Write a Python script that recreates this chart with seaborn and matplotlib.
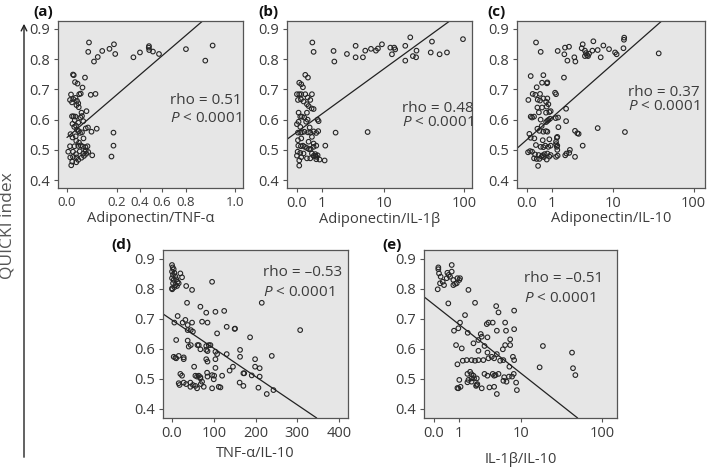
import numpy as np
import matplotlib
matplotlib.use("Agg")
import matplotlib.pyplot as plt
import seaborn as sns

# ---- data ---------------------------------------------------------------
a_x = [0.088, 0.085, 0.108, 0.123, 0.141, 0.170, 0.188, 0.193, 0.343, 0.400, 0.482, 0.480, 0.484, 0.518, 0.573, 0.800, 0.879, 0.909,
       0.024, 0.027, 0.072, 0.032, 0.042, 0.062, 0.055, 0.049, 0.095, 0.114, 0.016, 0.012, 0.025, 0.034, 0.040, 0.020, 0.045,
       0.038, 0.047, 0.078, 0.058, 0.020, 0.026, 0.034, 0.054, 0.060, 0.065, 0.031, 0.045, 0.036, 0.029, 0.022, 0.040, 0.047,
       0.075, 0.084, 0.119, 0.098, 0.060, 0.186, 0.014, 0.022, 0.037, 0.048, 0.066, 0.012, 0.030, 0.045, 0.055, 0.063, 0.074,
       0.082, 0.186, 0.005, 0.024, 0.051, 0.036, 0.065, 0.077, 0.085, 0.101, 0.178, 0.013, 0.024, 0.038, 0.045, 0.058, 0.068,
       0.017, 0.021, 0.037, 0.075, 0.035, 0.052]
a_y = [0.855, 0.824, 0.792, 0.807, 0.827, 0.834, 0.849, 0.817, 0.806, 0.822, 0.843, 0.838, 0.830, 0.825, 0.817, 0.833, 0.795, 0.845,
       0.749, 0.747, 0.739, 0.724, 0.719, 0.706, 0.686, 0.684, 0.682, 0.685, 0.683, 0.665, 0.668, 0.672, 0.662, 0.657, 0.654,
       0.648, 0.641, 0.628, 0.623, 0.611, 0.611, 0.610, 0.607, 0.612, 0.595, 0.598, 0.590, 0.580, 0.576, 0.586, 0.566, 0.562,
       0.571, 0.574, 0.570, 0.560, 0.558, 0.557, 0.552, 0.541, 0.530, 0.524, 0.538, 0.512, 0.512, 0.513, 0.515, 0.511, 0.509,
       0.512, 0.514, 0.494, 0.494, 0.495, 0.486, 0.488, 0.487, 0.493, 0.482, 0.478, 0.475, 0.477, 0.475, 0.467, 0.474, 0.480,
       0.449, 0.461, 0.459, 0.497, 0.545, 0.556]

b_x = [0.53, 0.585, 1.75, 1.81, 2.98, 4.06, 4.06, 5.19, 5.6, 6.73, 7.87, 8.37, 9.47, 12.2, 12.8, 14.1, 13.7, 18.95, 18.95, 21.9,
       23.6, 25.9, 26.2, 40.7, 39.3, 50.5, 62.1, 97.2,
       1.91, 6.05, 1.19, 1.15, 0.87,
       0.259, 0.355, 0.066, 0.127, 0.18, 0.0, 0.066, 0.127, 0.259, 0.344, 0.513, 0.028, 0.117, 0.2, 0.318, 0.38, 0.446, 0.5,
       0.585, 0.047, 0.097, 0.148, 0.225, 0.318, 0.29, 0.344, 0.77, 0.82, 0.0, 0.047, 0.097, 0.028, 0.097, 0.148, 0.225, 0.355,
       0.446, 0.585, 0.706, 0.80, 0.42, 0.513, 0.585, 0.38, 0.028, 0.127, 0.038, 0.117, 0.18, 0.245, 0.318, 0.40, 0.46, 0.585,
       0.706, 0.019, 0.097, 0.2, 0.513, 0.66, 0.77, 0.706, 0.585, 0.066, 0.127, 0.318, 0.446, 0.706, 0.66, 0.066, 0.0]
b_y = [0.855, 0.824, 0.827, 0.792, 0.817, 0.844, 0.806, 0.806, 0.828, 0.834, 0.828, 0.835, 0.849, 0.838, 0.816, 0.832, 0.838,
       0.844, 0.795, 0.872, 0.810, 0.806, 0.828, 0.858, 0.822, 0.816, 0.822, 0.866,
       0.557, 0.559, 0.514, 0.465, 0.468,
       0.748, 0.739, 0.722, 0.717, 0.707, 0.684, 0.684, 0.684, 0.684, 0.673, 0.684, 0.665, 0.667, 0.660, 0.651, 0.645, 0.665,
       0.637, 0.635, 0.623, 0.610, 0.610, 0.607, 0.623, 0.593, 0.600, 0.600, 0.595, 0.585, 0.593, 0.576, 0.557, 0.557, 0.558,
       0.560, 0.558, 0.557, 0.561, 0.556, 0.562, 0.574, 0.543, 0.521, 0.527, 0.532, 0.538, 0.514, 0.512, 0.514, 0.510, 0.506,
       0.502, 0.503, 0.510, 0.514, 0.494, 0.490, 0.488, 0.488, 0.486, 0.482, 0.477, 0.480, 0.465, 0.476, 0.472, 0.472, 0.469,
       0.480, 0.448, 0.481]

c_x = [0.294, 0.472, 1.355, 1.83, 1.88, 2.22, 2.08, 2.73, 2.84, 3.57, 3.7, 4.0, 4.15, 4.3, 4.45, 4.6, 4.0, 5.14, 5.31, 6.11,
       6.73, 7.32, 8.73, 10.5, 11.0, 13.5, 13.7, 13.8, 37.4,
       6.11, 14.1, 3.7, 2.8, 3.05, 3.2, 2.8, 1.8, 1.97, 1.97, 1.38, 1.23, 1.4, 1.3, 1.33, 1.25, 1.25, 1.33, 1.3, 1.33, 1.35,
       1.25, 2.3, 2.24, 2.0, 1.9, 1.19, 1.25,
       0.117, 0.585, 0.318, 0.528, 0.75, 0.77, 0.047, 0.18, 0.27, 0.446, 0.355, 0.446, 0.585, 0.77, 0.71, 0.82, 0.74, 0.344,
       0.528, 0.40, 0.706, 0.87, 0.94, 0.117, 0.16, 0.225, 0.47, 0.71, 0.77, 0.82, 0.905, 0.513, 0.344, 0.42, 0.585, 0.706,
       0.77, 0.077, 0.117, 0.236, 0.557, 0.87, 0.29, 0.47, 0.585, 0.67, 0.82, 0.94, 0.038, 0.16, 0.259, 0.39, 0.64, 0.77,
       0.94, 0.225, 0.318, 0.42, 0.51, 0.61, 0.74, 0.87, 0.37, 0.097, 0.557]
c_y = [0.855, 0.824, 0.827, 0.816, 0.838, 0.841, 0.795, 0.806, 0.792, 0.836, 0.849, 0.828, 0.820, 0.813, 0.810, 0.818, 0.810,
       0.828, 0.859, 0.830, 0.806, 0.845, 0.833, 0.822, 0.816, 0.836, 0.864, 0.871, 0.819,
       0.572, 0.559, 0.514, 0.563, 0.555, 0.553, 0.477, 0.739, 0.636, 0.595, 0.607, 0.605, 0.575, 0.540, 0.543, 0.527, 0.519,
       0.514, 0.510, 0.500, 0.481, 0.477, 0.500, 0.490, 0.488, 0.482, 0.689, 0.684,
       0.744, 0.747, 0.707, 0.722, 0.720, 0.723, 0.665, 0.685, 0.682, 0.685, 0.666, 0.663, 0.670, 0.670, 0.659, 0.651, 0.643,
       0.640, 0.640, 0.624, 0.623, 0.625, 0.628, 0.610, 0.607, 0.610, 0.600, 0.592, 0.596, 0.599, 0.603, 0.579, 0.570, 0.563,
       0.560, 0.562, 0.560, 0.553, 0.540, 0.538, 0.532, 0.535, 0.516, 0.510, 0.509, 0.514, 0.510, 0.514, 0.492, 0.494, 0.485,
       0.483, 0.486, 0.488, 0.483, 0.472, 0.470, 0.470, 0.478, 0.476, 0.468, 0.478, 0.447, 0.496, 0.482]

d_x = [0, 1.6, 4, 0, 5.6, 2.4, 8, 0, 4, 10.4, 13.5, 2.4, 8, 16, 20, 24, 0, 5.6, 12, 0.5,
       34, 48, 96, 215, 36, 68, 82, 104, 125, 13.5, 32, 25.5, 5.6, 72, 85, 37.5, 48, 131, 150, 151, 108, 37.5, 50, 45,
       10, 37.5, 187, 307, 40, 45, 61, 64, 82, 88, 92, 4, 8, 10, 16, 28, 28, 68, 82, 85, 104, 108, 82, 85, 104, 131,
       163, 163, 199, 239, 53, 104, 138, 20, 24, 56, 60, 64, 68, 84, 85, 96, 101, 120, 171, 173, 191, 210, 199, 210,
       34, 28, 44, 44, 50, 56, 60, 69, 72, 68, 96, 100, 112, 116, 162, 171, 207, 227, 243, 18, 16, 76, 146]
d_y = [0.880, 0.872, 0.866, 0.858, 0.854, 0.847, 0.841, 0.836, 0.830, 0.832, 0.824, 0.819, 0.813, 0.819, 0.852, 0.839, 0.802,
       0.806, 0.810, 0.799,
       0.810, 0.797, 0.824, 0.754, 0.754, 0.741, 0.721, 0.724, 0.727, 0.710, 0.697, 0.688, 0.688, 0.691, 0.688, 0.680, 0.688,
       0.674, 0.667, 0.668, 0.652, 0.663, 0.658, 0.663, 0.630, 0.628, 0.639, 0.663, 0.608, 0.613, 0.613, 0.613, 0.610, 0.613,
       0.613, 0.574, 0.571, 0.569, 0.577, 0.572, 0.566, 0.599, 0.597, 0.593, 0.591, 0.583, 0.566, 0.558, 0.566, 0.583, 0.597,
       0.574, 0.566, 0.577, 0.541, 0.537, 0.528, 0.517, 0.511, 0.511, 0.508, 0.511, 0.506, 0.521, 0.508, 0.513, 0.511, 0.511,
       0.519, 0.519, 0.512, 0.508, 0.541, 0.536, 0.483, 0.488, 0.488, 0.474, 0.480, 0.477, 0.469, 0.483, 0.491, 0.502, 0.469,
       0.499, 0.474, 0.472, 0.488, 0.477, 0.471, 0.450, 0.463, 0.480, 0.486, 0.474, 0.541]

e_x = [0.126, 0.126, 0.147, 0.2, 0.269, 0.106, 0.179, 0.316, 0.416, 0.443, 0.496, 0.552, 0.625, 0.625, 0.7, 0.78, 0.9,
       0.864, 1.0, 1.04, 0.7,
       0.48, 1.57, 2.08, 4.5, 4.86, 8.0, 1.34, 1.04, 0.73, 0.95, 1.52, 2.6, 3.25, 3.45, 4.0, 4.6, 6.03, 6.2, 7.07, 8.0,
       2.38, 2.7, 3.33, 0.83, 1.14, 1.95, 2.38, 2.99, 3.33, 4.6, 5.6, 6.03, 7.07, 7.7, 8.0, 3.87, 4.2, 1.2, 1.45, 1.8,
       2.08, 2.38, 2.87, 3.45, 0.9, 5.13, 5.7, 6.9, 17.1, 18.8, 43, 44.2, 47.2, 1.5, 1.69, 1.8, 1.95, 2.99, 3.33, 4.0,
       4.2, 4.4, 4.86, 7.9, 5.85, 6.8, 7.5, 1.0, 1.57, 1.8, 2.0, 2.23, 1.5, 1.8, 5.7, 8.5, 8.7, 2.17, 2.28, 2.23, 2.7,
       0.95, 0.9, 1.07, 3.57, 4.2, 4.6, 6.3]
e_y = [0.872, 0.866, 0.852, 0.841, 0.824, 0.799, 0.819, 0.813, 0.836, 0.854, 0.847, 0.841, 0.858, 0.880, 0.830, 0.817,
       0.836, 0.819, 0.830, 0.836, 0.813,
       0.752, 0.797, 0.754, 0.743, 0.722, 0.728, 0.713, 0.688, 0.661, 0.669, 0.654, 0.650, 0.683, 0.688, 0.688, 0.661, 0.688,
       0.661, 0.632, 0.666, 0.630, 0.641, 0.639, 0.613, 0.602, 0.619, 0.594, 0.610, 0.588, 0.583, 0.599, 0.613, 0.613, 0.574,
       0.563, 0.574, 0.569, 0.561, 0.563, 0.563, 0.561, 0.563, 0.563, 0.569, 0.549, 0.561, 0.563, 0.541, 0.539, 0.610, 0.588,
       0.536, 0.513, 0.517, 0.524, 0.516, 0.511, 0.517, 0.511, 0.517, 0.511, 0.513, 0.517, 0.517, 0.506, 0.508, 0.508, 0.497,
       0.497, 0.502, 0.502, 0.502, 0.489, 0.491, 0.494, 0.488, 0.463, 0.477, 0.483, 0.480, 0.469, 0.469, 0.470, 0.474, 0.472,
       0.474, 0.450, 0.491]

# fitted lines: two end points each (x, y)
a_fit = ([0.0, 0.871], [0.541, 0.928])
b_fit = ([-0.24, 68.7], [0.535, 0.928])
c_fit = ([-0.235, 41.5], [0.505, 0.928])
d_fit = ([-21.6, 346.6], [0.717, 0.370])
e_fit = ([-0.24, 50.3], [0.774, 0.370])

xlabels = ["Adiponectin/TNF-\u03b1", "Adiponectin/IL-1\u03b2", "Adiponectin/IL-10", "TNF-\u03b1/IL-10", "IL-1\u03b2/IL-10"]
panel_tags = ["(a)", "(b)", "(c)", "(d)", "(e)"]
rho_text = ["rho = 0.51", "rho = 0.48", "rho = 0.37", "rho = \u20130.53", "rho = \u20130.51"]
p_text = r"$P$ < 0.0001"

# ---- style -----------------------------------------------------------------
sns.set_style("ticks")
plt.rcParams["font.family"] = ["Open Sans", "DejaVu Sans"]
plt.rcParams["mathtext.fontset"] = "custom"
plt.rcParams["mathtext.it"] = "Open Sans:italic"
plt.rcParams["mathtext.rm"] = "Open Sans"
TXT = "#3c3c3c"
FS = 10.5

W, H = 709, 470


def log1p_fwd(x):
    return np.log10(np.asarray(x, dtype=float) + 1)


def log1p_inv(x):
    return 10 ** np.asarray(x, dtype=float) - 1


# panel (a) uses an uneven axis; tick value -> relative position
A_KNOTS = [-1.0, 0.0, 0.2, 0.4, 0.6, 0.8, 1.0, 2.0]
A_POS = [-250, 0, 50, 73, 95, 119, 168, 413]


def a_fwd(x):
    return np.interp(x, A_KNOTS, A_POS)


def a_inv(p):
    return np.interp(p, A_POS, A_KNOTS)


def px_box(l, t, r, b):
    return [l / W, 1 - b / H, (r - l) / W, (b - t) / H]


fig = plt.figure(figsize=(W / 100, H / 100), dpi=100)

panels = [
    dict(box=px_box(58, 21, 243, 188), x=a_x, y=a_y, fit=a_fit, scale=(a_fwd, a_inv),
         xlim=(-0.036, 1.033), ylim=(0.374, 0.926),
         xticks=[0, 0.2, 0.4, 0.6, 0.8, 1.0], xtl=["0.0", "0.2", "0.4", "0.6", "0.8", "1.0"], xfs=9.5,
         tag=(33, 12), rho=(170, 100, 118), lab=-0.14),
    dict(box=px_box(287, 21, 472, 188), x=b_x, y=b_y, fit=b_fit, scale=(log1p_fwd, log1p_inv),
         xlim=(-0.24, 125), ylim=(0.374, 0.926),
         xticks=[0, 1, 10, 100], xtl=["0.0", "1", "10", "100"], xfs=FS,
         tag=(258, 12), rho=(402, 108, 122), lab=-0.145),
    dict(box=px_box(517, 21, 705, 188), x=c_x, y=c_y, fit=c_fit, scale=(log1p_fwd, log1p_inv),
         xlim=(-0.235, 137), ylim=(0.374, 0.926),
         xticks=[0, 1, 10, 100], xtl=["0.0", "1", "10", "100"], xfs=FS,
         tag=(487, 12), rho=(628, 92, 107), lab=-0.14),
    dict(box=px_box(163, 250, 348, 418), x=d_x, y=d_y, fit=d_fit, scale=None,
         xlim=(-21.6, 421.6), ylim=(0.37, 0.93),
         xticks=[0, 100, 200, 300, 400], xtl=["0.0", "100", "200", "300", "400"], xfs=FS,
         tag=(111, 245), rho=(263, 272, 293), lab=-0.165),
    dict(box=px_box(424, 250, 617, 418), x=e_x, y=e_y, fit=e_fit, scale=(log1p_fwd, log1p_inv),
         xlim=(-0.24, 150), ylim=(0.37, 0.93),
         xticks=[0, 1, 10, 100], xtl=["0.0", "1", "10", "100"], xfs=FS,
         tag=(382, 245), rho=(524, 278, 298), lab=-0.2),
]

for i, p in enumerate(panels):
    ax = fig.add_axes(p["box"])
    ax.set_facecolor("#e6e6e6")
    if p["scale"] is not None:
        ax.set_xscale("function", functions=p["scale"])
        fwd, inv = p["scale"]
    else:
        fwd, inv = (lambda v: np.asarray(v, dtype=float)), (lambda v: np.asarray(v, dtype=float))

    sns.scatterplot(x=p["x"], y=p["y"], ax=ax, marker="o", s=11, facecolor="none",
                    edgecolor="#262626", linewidth=0.8, legend=False)

    # regression line, straight in the axis' own scale
    fx, fy = p["fit"]
    t = np.linspace(0, 1, 80)
    sx = fwd(fx[0]) + t * (fwd(fx[1]) - fwd(fx[0]))
    ax.plot(inv(sx), fy[0] + t * (fy[1] - fy[0]), color="#222222", lw=0.9)

    ax.set_xlim(*p["xlim"])
    ax.set_ylim(*p["ylim"])
    ax.set_xticks(p["xticks"])
    ax.set_xticklabels(p["xtl"])
    ax.set_yticks([0.4, 0.5, 0.6, 0.7, 0.8, 0.9])
    ax.set_yticklabels(["0.4", "0.5", "0.6", "0.7", "0.8", "0.9"])
    ax.minorticks_off()
    ax.tick_params(labelsize=FS, colors="#555555", labelcolor=TXT, length=3, width=0.8, pad=3)
    ax.tick_params(axis="x", labelsize=p["xfs"])
    for sp in ax.spines.values():
        sp.set_color("#555555")
        sp.set_linewidth(0.9)
    ax.set_xlabel(xlabels[i], fontsize=FS, color=TXT)
    ax.xaxis.set_label_coords(0.5, p["lab"])
    ax.set_ylabel("")

    tx, ty = p["tag"]
    fig.text(tx / W, 1 - ty / H, panel_tags[i], fontsize=11, fontweight="bold", color="#111111",
             ha="left", va="center")
    rx, ry1, ry2 = p["rho"]
    fig.text(rx / W, 1 - ry1 / H, rho_text[i], fontsize=FS + 0.5, color=TXT, ha="left", va="center")
    fig.text(rx / W, 1 - ry2 / H, p_text, fontsize=FS + 0.5, color=TXT, ha="left", va="center")

# shared y label with the long arrow
fig.text(8 / W, 1 - 226 / H, "QUICKI index", rotation=90, fontsize=12.5, color="#555555",
         ha="center", va="center")
fig.axes[0].annotate("", xy=(24 / W, 1 - 21 / H), xytext=(24 / W, 1 - 460 / H),
                     xycoords="figure fraction", textcoords="figure fraction",
                     arrowprops=dict(arrowstyle="->", color="#222222", lw=1.0),
                     annotation_clip=False)

fig.savefig("out.png", dpi=100)
